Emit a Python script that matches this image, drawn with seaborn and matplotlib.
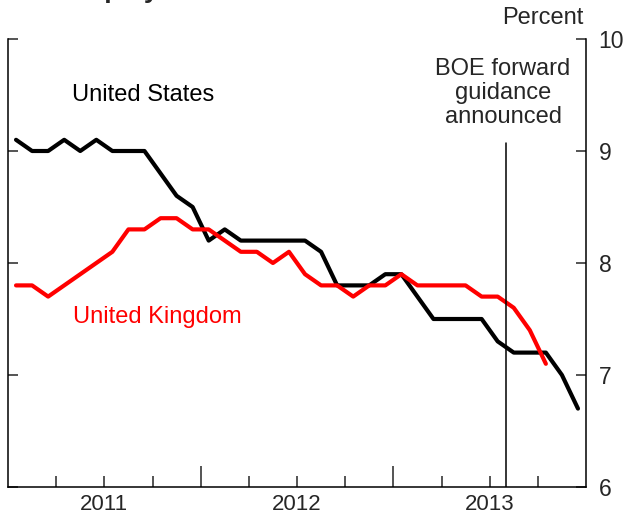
import numpy as np
import pandas as pd
import matplotlib
matplotlib.use("Agg")
import matplotlib.pyplot as plt
import seaborn as sns

# monthly unemployment rates, Jan 2011 onwards (percent)
us_rate = [9.1, 9.0, 9.0, 9.1, 9.0, 9.1, 9.0, 9.0, 9.0, 8.8, 8.6, 8.5,
           8.2, 8.3, 8.2, 8.2, 8.2, 8.2, 8.2, 8.1, 7.8, 7.8, 7.8, 7.9,
           7.9, 7.7, 7.5, 7.5, 7.5, 7.5, 7.3, 7.2, 7.2, 7.2, 7.0, 6.7]
uk_rate = [7.8, 7.8, 7.7, 7.8, 7.9, 8.0, 8.1, 8.3, 8.3, 8.4, 8.4, 8.3,
           8.3, 8.2, 8.1, 8.1, 8.0, 8.1, 7.9, 7.8, 7.8, 7.7, 7.8, 7.8,
           7.9, 7.8, 7.8, 7.8, 7.8, 7.7, 7.7, 7.6, 7.4, 7.1]
year_labels = ["2011", "2012", "2013"]
boe_date = 2013 + 7 / 12  # BOE forward guidance, Aug 2013

dates = pd.date_range("2011-01", periods=len(us_rate), freq="MS")
xpos = dates.year + (dates.month - 0.5) / 12

df = pd.concat([
    pd.DataFrame({"date": xpos, "rate": us_rate, "country": "United States"}),
    pd.DataFrame({"date": xpos[:len(uk_rate)], "rate": uk_rate, "country": "United Kingdom"}),
])

sns.set_style("ticks")
plt.rcParams["font.family"] = ["Liberation Sans", "DejaVu Sans"]

W, H = 627, 518
fig = plt.figure(figsize=(W / 100, H / 100), dpi=100)
ax = fig.add_axes([8 / W, 31 / H, 578 / W, 448 / H])


def px(x, y):
    # pixel position from the top-left corner -> figure fraction
    return x / W, 1 - y / H


sns.lineplot(data=df, x="date", y="rate", hue="country",
             palette={"United States": "black", "United Kingdom": "#ff0000"},
             linewidth=3, legend=False, ax=ax)

ax.plot([boe_date, boe_date], [6, 9.07], color="black", lw=1.1)

ax.set_xlim(2011, 2014)
ax.set_ylim(6, 10)
ax.set_xlabel("")
ax.set_ylabel("")

for s in ["left", "right", "bottom"]:
    ax.spines[s].set_linewidth(1.1)
    ax.spines[s].set_color("black")
ax.spines["top"].set_visible(False)

ax.set_xticks([2012, 2013])
ax.set_xticks([2011.25, 2011.5, 2011.75, 2012.25, 2012.5, 2012.75,
               2013.25, 2013.5, 2013.75], minor=True)
ax.tick_params(axis="x", which="major", direction="in", length=15, width=1.1,
               labelbottom=False)
ax.tick_params(axis="x", which="minor", direction="in", length=8, width=1.1)

sec = ax.secondary_xaxis("bottom")
sec.set_xticks([2011.5, 2012.5, 2013.5], labels=year_labels)
sec.tick_params(length=0, pad=5, labelsize=16)
sec.spines["bottom"].set_visible(False)

ax.set_yticks([6, 7, 8, 9, 10])
ax.tick_params(axis="y", direction="in", length=7, width=1.1, left=True,
               right=True, labelleft=False, labelright=True, pad=9,
               labelsize=16.5)

fig.text(*px(584, 18), "Percent", ha="right", va="center", fontsize=17)
fig.text(*px(72, 95), "United States", ha="left", va="center",
         fontsize=17, color="black")
fig.text(*px(73, 317), "United Kingdom", ha="left", va="center",
         fontsize=17, color="#ff0000")
fig.text(*px(503, 93), "BOE forward\nguidance\nannounced",
         ha="center", va="center", fontsize=17, linespacing=1.1)

# title, mostly above the top edge as in the source image
fig.text(*px(31, -2), "Unemployment Rate", fontsize=19,
         fontweight="bold", ha="left", va="baseline")

fig.savefig("out.png", dpi=100)
